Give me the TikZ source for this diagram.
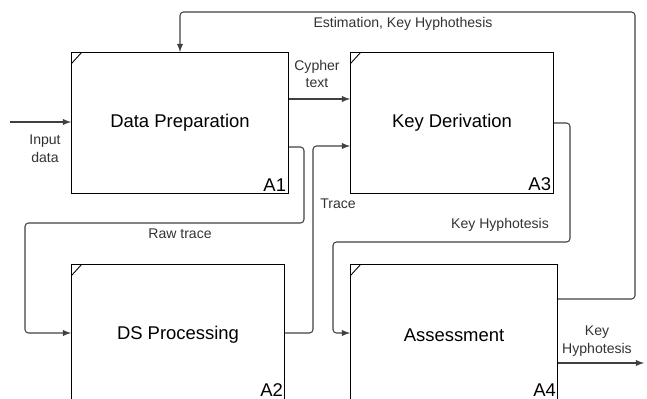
\documentclass[tikz,border=0pt]{standalone}
\usepackage{fontspec}
\setmainfont{Liberation Sans}
\usetikzlibrary{positioning,arrows}

\begin{document}
\begin{tikzpicture}[x=0.02cm, y=-0.02cm,
  box/.style={draw, line width=0.6pt, rectangle, anchor=north west, minimum height=2.82cm, inner sep=0pt,
    font=\fontsize{10.5}{12}\selectfont,
    path picture={\draw[line width=0.5pt] ([yshift=-0.22cm]path picture bounding box.north west) -- ++(0.2cm,0.22cm);}},
  tag/.style={anchor=south east, inner sep=1.5pt, font=\fontsize{10.5}{12}\selectfont},
  flow/.style={->, >=latex, line width=0.6pt, black!75, rounded corners=2pt},
  lbl/.style={align=center, inner sep=0pt, text=black!80, font=\fontsize{8}{10}\selectfont}]
\clip (0,0) rectangle (647,399);
\node[box, minimum width=4.34cm] (a1) at (71,52) {Data Preparation};
\node[box, minimum width=4.06cm] (a3) at (350,52) {Key Derivation};
\node[box, minimum width=4.26cm] (a2) at (71,264) {DS Processing};
\node[box, minimum width=4.14cm] (a4) at (350,264) {Assessment};
\node[tag] at (a1.south east) {A1};
\node[tag] at (a3.south east) {A3};
\node[tag, inner sep=1pt] at (a2.east |- 0,399) {A2};
\node[tag, inner sep=1pt] at (a4.east |- 0,399) {A4};
\coordinate (input) at (10,122);
\coordinate (output) at (644,363);
% connectors
\draw[flow] (input) -- (a1.west |- input);
\draw[flow] (a1.east |- 0,99) -- (a3.west |- 0,99);
\draw[flow] (a1.east |- 0,147) -| (304,223) -| (25,333) -- (a2.west |- 0,333);
\draw[flow] (a2.east |- 0,333) -| (313,146) -- (a3.west |- 0,146);
\draw[flow] (a3.east |- 0,123) -| (570,242) -| (333,333) -- (a4.west |- 0,333);
\draw[flow] (a4.east |- 0,299) -| (635,12) -| (a1.north);
\draw[flow] (a4.east |- output) -- (output);
% labels
\node[lbl] (linput) at (45,149) {Input\\data};
\node[lbl] (lcypher) at (317,74) {Cypher\\text};
\node[lbl] (lraw) at (180,234) {Raw trace};
\node[lbl] (ltrace) at (338,204) {Trace};
\node[lbl] (lkey) at (500,225) {Key Hyphotesis};
\node[lbl] (lest) at (403,24) {Estimation, Key Hyphothesis};
\node[lbl] (lout) at (597,341) {Key\\Hyphotesis};
\end{tikzpicture}
\end{document}
